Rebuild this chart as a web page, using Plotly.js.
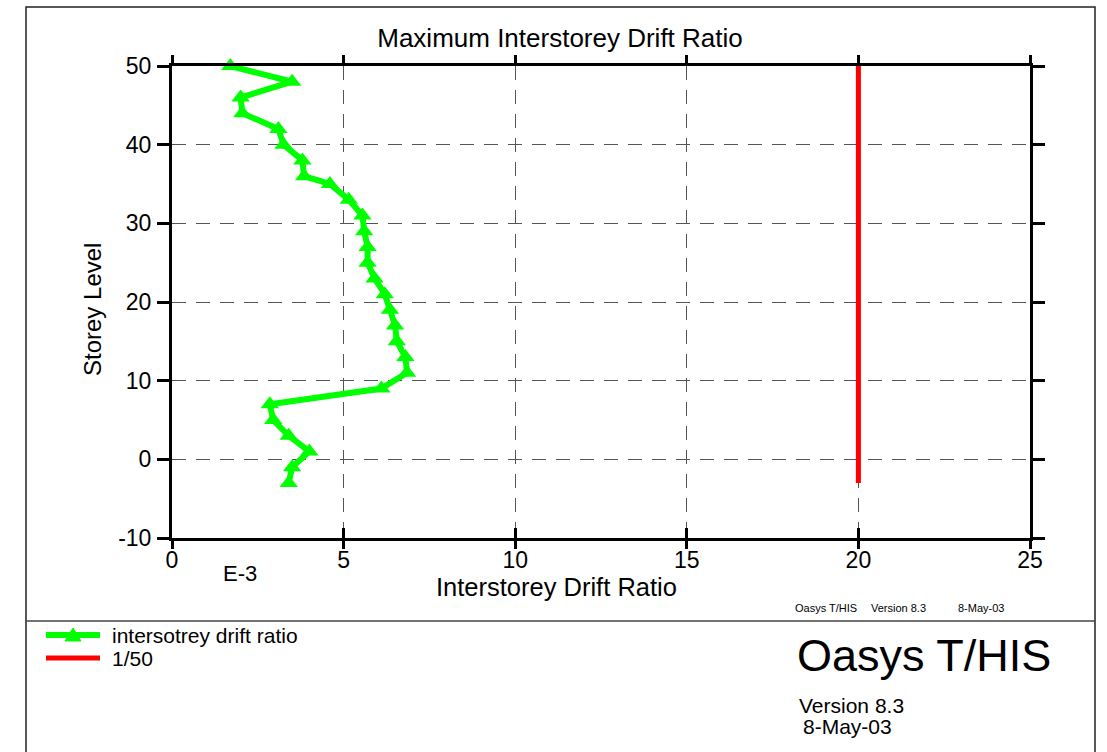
<!DOCTYPE html>
<html>
<head>
<meta charset="utf-8">
<script src="https://cdn.plot.ly/plotly-3.0.1.min.js"></script>
<style>
  html, body { margin: 0; padding: 0; background: #ffffff; }
  #chart { width: 1107px; height: 752px; }
</style>
</head>
<body>
<div id="chart"></div>
<script>
// Storey levels and the maximum interstorey drift ratio at each level (units of E-3)
const storeyLevels = [50, 48, 46, 44, 42, 40, 38, 36, 35, 33, 31, 29, 27, 25, 23, 21,
                      19, 17, 15, 13, 11, 9, 7, 5, 3, 1, -1, -3];
const driftRatio = [1.7, 3.5, 2.0, 2.05, 3.1, 3.25, 3.8, 3.85, 4.6, 5.15, 5.55, 5.6, 5.7, 5.7,
                    5.9, 6.2, 6.35, 6.5, 6.55, 6.8, 6.85, 6.1, 2.85, 2.95, 3.4, 4.0, 3.5, 3.4];

// Drift limit 1/50 (= 20 E-3) drawn over the height of the building
const limitDrift = [20, 20];
const limitLevels = [-3, 50];

const xTicks = [0, 5, 10, 15, 20, 25];
const yTicks = [-10, 0, 10, 20, 30, 40, 50];

const seriesNames = ['intersotrey drift ratio', '1/50'];

// Page geometry (pixels) of the plotting frame
const W = 1107, H = 752;
const L = 172, R = 1030, T = 66, B = 538;
const px = v => (v - L) / (R - L);   // page x -> paper x
const py = v => (B - v) / (B - T);   // page y -> paper y

const FONT = '"Liberation Sans", Arial, Helvetica, sans-serif';
const GREEN = '#00ff00';
const RED = '#ff0000';

const traces = [
  {
    x: driftRatio, y: storeyLevels,
    type: 'scatter', mode: 'lines+markers',
    line: { color: GREEN, width: 6 },
    marker: { symbol: 'triangle-up', size: 16, color: GREEN },
    name: seriesNames[0], showlegend: false, cliponaxis: false
  },
  {
    x: limitDrift, y: limitLevels, xaxis: 'x2',
    type: 'scatter', mode: 'lines',
    line: { color: RED, width: 5 },
    name: seriesNames[1], showlegend: false
  }
];

const tri = (cx, cy) => `M${px(cx - 8)},${py(cy + 6)} L${px(cx + 8)},${py(cy + 6)} L${px(cx)},${py(cy - 7)} Z`;

const shapes = [
  // outer page frame and separator above the legend block
  { type: 'rect', xref: 'paper', yref: 'paper', x0: px(26), x1: px(1095), y0: py(770), y1: py(7),
    line: { color: '#222', width: 1.5 }, layer: 'below' },
  { type: 'line', xref: 'paper', yref: 'paper', x0: px(26), x1: px(1095), y0: py(621), y1: py(621),
    line: { color: '#444', width: 1.5 } },
  // legend keys
  { type: 'line', xref: 'paper', yref: 'paper', x0: px(46), x1: px(100), y0: py(635), y1: py(635),
    line: { color: GREEN, width: 6 } },
  { type: 'path', xref: 'paper', yref: 'paper', path: tri(73, 635),
    fillcolor: GREEN, line: { color: GREEN, width: 1 } },
  { type: 'line', xref: 'paper', yref: 'paper', x0: px(46), x1: px(100), y0: py(658), y1: py(658),
    line: { color: RED, width: 5 } }
];

const ann = (x, y, text, size, extra) => Object.assign({
  xref: 'paper', yref: 'paper', x: px(x), y: py(y), text: text, showarrow: false,
  font: { family: FONT, size: size, color: '#000' }, xanchor: 'left', yanchor: 'middle'
}, extra || {});

const annotations = [
  ann(240, 573, 'E-3', 22, { xanchor: 'center' }),
  ann(556, 587, 'Interstorey Drift Ratio', 25.5, { xanchor: 'center' }),
  ann(92, 310, 'Storey Level', 24, { xanchor: 'center', textangle: -90 }),
  ann(110, 635, seriesNames[0], 21),
  ann(110, 658, seriesNames[1], 21),
  ann(793, 608, 'Oasys T/HIS', 11),
  ann(869, 608, 'Version 8.3', 11),
  ann(956, 608, '8-May-03', 11),
  ann(795, 655, 'Oasys T/HIS', 45),
  ann(797, 705, 'Version 8.3', 21),
  ann(801, 726, '8-May-03', 21)
];

const layout = {
  width: W, height: H,
  margin: { l: L, r: W - R, t: T, b: H - B, pad: 0 },
  paper_bgcolor: '#ffffff', plot_bgcolor: '#ffffff',
  font: { family: FONT, color: '#000' },
  showlegend: false,
  title: {
    text: 'Maximum Interstorey Drift Ratio',
    font: { family: FONT, size: 26, color: '#000' },
    xref: 'container', yref: 'container', x: 560 / W, xanchor: 'center',
    y: 1 - 38 / H, yanchor: 'middle'
  },
  xaxis: {
    range: [0, 25], tickvals: xTicks, ticktext: xTicks.map(String),
    showline: true, linecolor: '#000', linewidth: 3, mirror: 'ticks',
    ticks: 'outside', ticklen: 8, tickwidth: 3, tickcolor: '#000',
    ticklabelstandoff: -9,
    tickfont: { family: FONT, size: 23, color: '#000' },
    showgrid: true, gridcolor: '#555', gridwidth: 1, griddash: '14px,10px',
    zeroline: false, fixedrange: true
  },
  // bottom inside ticks (the bottom ticks cross the axis line)
  xaxis2: {
    overlaying: 'x', matches: 'x', side: 'bottom', anchor: 'y',
    range: [0, 25], tickvals: xTicks, showticklabels: false,
    ticks: 'inside', ticklen: 10, tickwidth: 3, tickcolor: '#000',
    showline: false, showgrid: false, zeroline: false
  },
  yaxis: {
    range: [-10, 50], tickvals: yTicks, ticktext: yTicks.map(String),
    showline: true, linecolor: '#000', linewidth: 3, mirror: 'ticks',
    ticks: 'outside', ticklen: 12, tickwidth: 3, tickcolor: '#000',
    ticklabelstandoff: 1,
    tickfont: { family: FONT, size: 23, color: '#000' },
    showgrid: true, gridcolor: '#555', gridwidth: 1, griddash: '14px,10px',
    zeroline: false, fixedrange: true
  },
  shapes: shapes,
  annotations: annotations
};

Plotly.newPlot('chart', traces, layout, { staticPlot: true, displayModeBar: false });
</script>
</body>
</html>
